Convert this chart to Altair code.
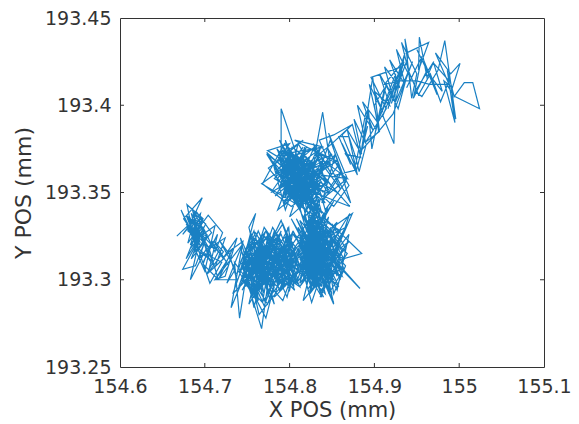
import altair as alt
import pandas as pd

x_ticks = [154.6, 154.7, 154.8, 154.9, 155.0, 155.1]
y_ticks = [193.25, 193.3, 193.35, 193.4, 193.45]

xA = [154.667,154.680,154.672,154.690,154.678,154.700,154.683,154.698,154.679,154.686,154.678,154.694,154.684,154.703,154.680,154.697,154.675,154.692,154.682,154.705,154.686,154.674,154.695,154.688,154.708,154.690,154.680,154.704,154.721,154.712,154.698,154.684,154.700,154.689,154.674,154.694,154.683,154.702,154.692,154.678,154.688,154.710,154.695,154.712,154.700,154.688,154.705,154.696,154.716,154.702,154.722,154.708,154.698,154.716,154.705,154.724,154.712,154.700,154.720,154.706]
yA = [193.325,193.331,193.340,193.322,193.337,193.328,193.318,193.335,193.343,193.326,193.332,193.320,193.338,193.325,193.329,193.347,193.335,193.323,193.330,193.318,193.334,193.326,193.338,193.316,193.327,193.339,193.321,193.337,193.327,193.316,193.330,193.312,193.322,193.308,193.306,193.324,193.300,193.318,193.329,193.312,193.320,193.310,193.325,193.331,193.305,193.318,193.312,193.326,193.316,193.303,193.312,193.322,193.309,193.300,193.318,193.324,193.307,193.315,193.310,193.298]

xA2 = [154.682,154.690,154.685,154.694,154.680,154.688,154.697,154.683,154.692,154.686,154.699,154.681,154.691,154.687,154.695,154.684,154.689,154.701,154.686,154.693,154.679,154.690,154.696,154.684,154.692,154.688,154.700,154.685,154.694,154.682,154.690,154.703,154.693,154.710,154.698,154.715,154.704,154.722,154.711,154.728,154.716,154.733,154.721,154.738,154.724,154.712,154.730,154.718,154.736,154.726,154.744]
yA2 = [193.332,193.326,193.336,193.322,193.328,193.338,193.330,193.320,193.334,193.324,193.328,193.335,193.318,193.330,193.336,193.326,193.320,193.332,193.339,193.325,193.330,193.322,193.334,193.328,193.318,193.332,193.322,193.330,193.326,193.336,193.316,193.326,193.312,193.322,193.310,193.326,193.304,193.316,193.322,193.308,193.300,193.318,193.312,193.324,193.302,193.300,193.314,193.322,193.306,193.298,193.320]

xB = [154.712,154.738,154.728,154.745,154.731,154.750,154.741,154.735,154.756,154.742,154.762,154.748,154.770,154.752,154.760,154.744,154.767,154.775,154.758,154.782,154.765,154.749,154.772,154.790,154.768,154.755,154.778,154.760,154.740,154.763,154.785,154.770,154.752,154.775,154.795,154.778,154.758,154.745,154.768,154.788,154.772,154.750,154.764,154.782,154.760,154.738,154.755,154.775,154.762,154.790,154.770,154.748,154.767,154.780,154.757,154.742,154.763,154.760,154.785,154.768,154.775,154.752,154.741,154.758,154.767,154.772,154.754,154.775,154.762,154.786,154.770,154.745,154.760,154.780,154.765,154.752,154.733,154.757,154.778,154.760,154.792,154.772,154.748,154.766,154.785,154.756,154.775,154.795,154.764,154.750,154.773,154.788,154.760,154.743,154.768,154.782,154.755,154.770,154.792,154.776,154.758,154.784,154.765,154.790,154.772,154.798,154.780,154.762,154.786,154.800]
yB = [193.300,193.300,193.316,193.322,193.284,193.306,193.278,193.310,193.296,193.324,193.302,193.316,193.292,193.330,193.338,193.308,193.272,193.300,193.312,193.295,193.322,193.300,193.278,193.312,193.326,193.290,193.318,193.305,193.296,193.328,193.304,193.288,193.320,193.310,193.296,193.324,193.284,193.314,193.302,193.326,193.298,193.308,193.320,193.286,193.312,193.304,193.326,193.300,193.294,193.316,193.330,193.296,193.310,193.322,193.300,193.318,193.288,193.306,193.324,193.314,193.292,193.322,193.304,193.290,193.318,193.303,193.312,193.326,193.298,193.306,193.285,193.313,193.327,193.310,193.296,193.318,193.292,193.304,193.320,193.293,193.308,193.328,193.298,193.316,193.300,193.322,193.306,193.319,193.294,193.310,193.324,193.298,193.314,193.300,193.287,193.326,193.308,193.318,193.300,193.290,193.322,193.310,193.303,193.328,193.296,193.316,193.330,193.305,193.296,193.320]

xB2 = [154.752,154.764,154.747,154.770,154.756,154.744,154.766,154.780,154.750,154.760,154.774,154.745,154.757,154.783,154.762,154.748,154.770,154.755,154.778,154.790,154.766,154.742,154.758,154.772,154.786,154.752,154.768,154.794,154.776,154.760,154.746,154.773,154.788,154.800,154.782,154.764,154.796,154.778,154.806,154.788,154.770,154.802,154.784,154.756,154.792,154.810,154.776,154.798,154.766,154.790,154.812,154.782,154.756,154.774,154.794,154.768,154.748,154.786,154.762,154.804,154.780,154.754,154.772,154.796,154.764,154.750,154.788,154.808,154.778,154.758,154.798,154.770,154.744,154.784,154.760,154.802,154.776,154.752,154.792,154.814,154.782,154.800,154.774,154.810,154.790,154.766,154.806,154.786,154.816,154.796]
yB2 = [193.312,193.304,193.318,193.298,193.322,193.306,193.316,193.300,193.310,193.294,193.320,193.298,193.324,193.312,193.302,193.315,193.326,193.292,193.308,193.318,193.296,193.310,193.328,193.302,193.314,193.286,193.320,193.304,193.326,193.290,193.306,193.316,193.294,193.310,193.328,193.300,193.322,193.306,193.316,193.298,193.318,193.302,193.324,193.308,193.288,193.312,193.296,193.326,193.310,193.334,193.304,193.318,193.300,193.286,193.314,193.326,193.312,193.296,193.306,193.320,193.302,193.316,193.328,193.300,193.280,193.310,193.322,193.298,193.312,193.324,193.306,193.318,193.294,193.326,193.308,193.296,193.320,193.302,193.332,193.306,193.290,193.322,193.310,193.300,193.326,193.314,193.294,193.318,193.302,193.328]

xB3 = [154.796,154.806,154.790,154.802,154.786,154.798,154.810,154.792,154.804,154.788,154.800,154.812,154.794,154.808,154.784,154.799,154.805,154.791,154.814,154.797,154.783,154.803,154.793,154.809,154.787,154.801,154.795,154.811,154.789,154.807,154.798,154.785,154.804,154.794,154.812,154.790,154.802,154.796,154.808,154.786]
yB3 = [193.322,193.306,193.314,193.298,193.326,193.304,193.318,193.296,193.328,193.310,193.294,193.320,193.312,193.302,193.316,193.330,193.296,193.308,193.324,193.290,193.306,193.322,193.314,193.298,193.304,193.326,193.318,193.306,193.294,193.312,193.330,193.298,193.316,193.302,193.296,193.320,193.308,193.326,193.318,193.300]

xC = [154.812,154.830,154.806,154.845,154.820,154.800,154.838,154.816,154.852,154.826,154.808,154.842,154.822,154.860,154.834,154.812,154.848,154.828,154.804,154.840,154.818,154.856,154.830,154.810,154.846,154.824,154.868,154.836,154.814,154.850,154.822,154.802,154.842,154.826,154.862,154.832,154.808,154.846,154.820,154.885,154.840,154.816,154.854,154.828,154.806,154.844,154.824,154.870,154.834,154.812,154.883,154.838,154.852,154.818,154.842,154.826,154.810,154.848,154.830,154.864,154.836,154.815,154.826,154.852,154.820,154.840,154.804,154.832,154.858,154.822,154.846,154.814,154.836,154.826,154.866,154.834,154.818,154.844,154.826,154.852,154.812,154.838,154.824,154.848,154.816,154.832,154.856,154.828,154.842,154.808,154.834,154.820,154.850,154.826,154.840,154.813,154.830,154.860,154.824,154.846,154.818,154.836,154.874,154.842,154.828,154.850,154.812,154.834,154.822,154.844,154.826,154.838,154.816,154.854,154.830,154.803,154.842,154.824,154.836,154.852,154.820,154.833,154.846,154.814,154.828,154.871,154.842,154.819,154.835,154.848,154.824,154.810,154.838,154.826,154.856,154.832,154.816,154.844,154.822,154.838,154.850,154.827,154.812,154.836,154.845,154.820,154.832,154.852,154.825,154.840,154.818,154.834]
yC = [193.300,193.325,193.310,193.296,193.332,193.318,193.303,193.328,193.287,193.316,193.335,193.305,193.295,193.322,193.336,193.298,193.318,193.306,193.328,193.290,193.314,193.333,193.300,193.322,193.308,193.336,193.315,193.293,193.326,193.304,193.318,193.335,193.297,193.312,193.302,193.332,193.298,193.322,193.306,193.315,193.336,193.288,193.312,193.326,193.302,193.330,193.292,193.322,193.308,193.334,193.295,193.318,193.286,193.324,193.310,193.296,193.330,193.300,193.320,193.312,193.336,193.306,193.287,193.325,193.298,193.316,193.326,193.308,193.296,193.334,193.312,193.322,193.296,193.320,193.330,193.304,193.336,193.308,193.326,193.300,193.312,193.290,193.318,193.328,193.300,193.332,193.315,193.296,193.322,193.306,193.318,193.334,193.292,193.312,193.328,193.302,193.322,193.306,193.294,193.336,193.312,193.325,193.338,193.302,193.318,193.328,193.296,193.310,193.332,193.316,193.300,193.326,193.336,193.306,193.320,193.312,193.292,193.328,193.306,193.322,193.298,193.332,193.312,193.320,193.304,193.338,193.296,193.326,193.312,193.302,193.334,193.314,193.296,193.326,193.308,193.340,193.318,193.300,193.332,193.310,193.326,193.336,193.304,193.322,193.342,193.316,193.330,193.345,193.322,193.338,193.350,193.334]

xC2 = [154.822,154.834,154.816,154.828,154.840,154.820,154.832,154.814,154.826,154.838,154.818,154.830,154.843,154.824,154.812,154.835,154.821,154.841,154.827,154.815,154.836,154.823,154.845,154.829,154.817,154.833,154.825,154.839,154.819,154.831,154.813,154.837,154.826,154.842,154.820,154.834,154.828,154.816,154.840,154.824,154.832,154.818,154.836,154.822,154.844,154.830,154.814,154.827,154.838,154.821,154.835,154.825,154.812,154.841,154.829,154.819,154.833,154.823,154.839,154.817,154.831,154.826,154.843,154.820,154.836,154.815,154.828,154.840,154.824,154.834,154.818,154.830,154.846,154.822,154.837,154.813,154.827,154.842,154.825,154.835,154.816,154.832,154.820,154.844,154.829,154.823,154.838,154.814,154.833,154.826,154.841,154.819,154.836,154.828,154.812,154.834,154.824,154.845,154.830,154.817]
yC2 = [193.306,193.322,193.312,193.330,193.304,193.326,193.310,193.318,193.302,193.324,193.332,193.314,193.306,193.328,193.308,193.320,193.300,193.316,193.334,193.312,193.326,193.306,193.322,193.310,193.328,193.300,193.318,193.332,193.308,193.324,193.314,193.304,193.330,193.312,193.320,193.302,193.326,193.306,193.322,193.316,193.334,193.300,193.310,193.328,193.318,193.304,193.324,193.312,193.330,193.308,193.320,193.296,193.316,193.326,193.306,193.322,193.312,193.332,193.302,193.318,193.328,193.308,193.314,193.298,193.324,193.310,193.334,193.304,193.320,193.314,193.326,193.300,193.316,193.306,193.330,193.322,193.310,193.302,193.326,193.318,193.306,193.332,193.312,193.322,193.296,193.324,193.310,193.316,193.304,193.334,193.320,193.308,193.328,193.300,193.324,193.312,193.336,193.306,193.322,193.318]

xC3 = [154.846,154.858,154.842,154.862,154.850,154.866,154.844,154.856,154.870,154.848,154.860,154.838,154.854,154.864,154.846,154.852,154.868,154.842,154.858,154.850,154.836,154.862,154.848,154.856,154.840,154.866,154.852,154.844,154.860]
yC3 = [193.296,193.310,193.322,193.302,193.332,193.318,193.306,193.294,193.326,193.312,193.300,193.330,193.320,193.306,193.292,193.316,193.332,193.300,193.324,193.310,193.290,193.316,193.330,193.302,193.322,193.308,193.292,193.318,193.328]

xN = [154.828,154.818,154.832,154.822,154.812,154.826,154.836,154.816,154.830,154.820,154.810,154.828,154.838,154.818,154.830,154.824,154.812,154.834,154.820,154.828,154.840,154.814,154.826,154.836,154.822,154.808,154.830,154.818,154.834,154.824,154.812,154.828,154.842,154.816,154.806,154.826,154.836,154.812,154.822,154.832,154.804,154.820,154.830,154.810,154.826,154.816,154.836,154.806,154.822,154.814]
yN = [193.338,193.348,193.330,193.352,193.340,193.326,193.346,193.335,193.354,193.328,193.344,193.356,193.338,193.350,193.342,193.325,193.352,193.334,193.358,193.346,193.330,193.342,193.360,193.336,193.350,193.356,193.340,193.362,193.346,193.332,193.358,193.350,193.344,193.364,193.348,193.336,193.356,193.342,193.366,193.352,193.358,193.344,193.368,193.350,193.340,193.362,193.354,193.346,193.370,193.352]

xD = [154.822,154.810,154.830,154.804,154.825,154.796,154.818,154.838,154.808,154.773,154.800,154.790,154.815,154.842,154.820,154.767,154.798,154.812,154.785,154.828,154.795,154.835,154.806,154.778,154.816,154.790,154.845,154.810,154.795,154.822,154.790,154.790,154.808,154.782,154.826,154.800,154.788,154.838,154.812,154.773,154.802,154.795,154.820,154.785,154.836,154.808,154.775,154.798,154.828,154.795,154.850,154.816,154.786,154.810,154.844,154.802,154.768,154.794,154.826,154.806,154.790,154.832,154.798,154.856,154.820,154.783,154.812,154.796,154.840,154.805,154.788,154.822,154.800,154.836,154.812,154.792,154.846,154.818,154.871,154.838,154.868,154.830,154.812,154.848,154.839,154.830,154.845,154.860,154.835,154.852,154.874,154.850]
yD = [193.342,193.352,193.345,193.358,193.340,193.368,193.350,193.360,193.345,193.372,193.362,193.345,193.370,193.356,193.340,193.355,193.366,193.348,193.375,193.352,193.345,193.370,193.358,193.350,193.376,193.360,193.350,193.378,193.348,193.362,193.366,193.398,193.372,193.358,193.345,193.375,193.352,193.368,193.342,193.373,193.360,193.380,193.350,193.368,193.376,193.345,193.364,193.372,193.348,193.360,193.372,193.352,193.340,193.370,193.356,193.342,193.355,193.378,193.358,193.345,193.374,193.362,193.350,193.368,193.376,193.348,193.360,193.372,193.350,193.366,193.380,193.346,193.362,193.375,193.340,193.356,193.368,193.352,193.342,193.360,193.358,193.372,193.352,193.366,193.396,193.372,193.362,193.352,193.380,193.383,193.389,193.378]

xD2 = [154.800,154.812,154.794,154.806,154.818,154.790,154.803,154.815,154.797,154.809,154.822,154.788,154.800,154.814,154.793,154.805,154.826,154.798,154.810,154.784,154.802,154.816,154.792,154.808,154.820,154.796,154.811,154.786,154.804,154.824,154.799,154.813,154.790,154.807,154.828,154.801,154.817,154.795,154.782,154.806,154.819,154.797,154.812,154.830,154.803,154.789,154.815,154.800,154.823,154.794,154.808,154.780,154.802,154.818,154.796,154.834,154.810,154.786,154.804,154.821,154.798,154.814,154.792,154.838,154.806,154.825,154.800,154.787,154.812,154.796,154.829,154.805,154.842,154.816,154.794,154.808,154.836,154.800,154.820,154.812]
yD2 = [193.358,193.368,193.362,193.350,193.372,193.356,193.366,193.352,193.374,193.360,193.348,193.364,193.370,193.354,193.342,193.368,193.358,193.376,193.346,193.362,193.372,193.352,193.366,193.356,193.370,193.346,193.362,193.374,193.350,193.362,193.368,193.344,193.358,193.372,193.352,193.362,193.370,193.340,193.364,193.352,193.374,193.356,193.342,193.366,193.376,193.354,193.362,193.348,193.370,193.358,193.344,193.368,193.356,193.376,193.350,193.364,193.342,193.358,193.372,193.352,193.366,193.338,193.374,193.358,193.346,193.368,193.354,193.370,193.340,193.362,193.376,193.350,193.366,193.344,193.360,193.372,193.352,193.336,193.364,193.348]

xD3 = [154.836,154.850,154.828,154.846,154.862,154.838,154.854,154.832,154.848,154.866,154.842,154.826,154.856,154.774,154.800,154.782,154.816,154.792,154.840,154.806,154.858,154.834,154.852,154.870,154.844,154.860,154.838,154.868,154.846,154.872,154.854]
yD3 = [193.372,193.360,193.378,193.350,193.362,193.344,193.372,193.358,193.380,193.356,193.340,193.368,193.350,193.374,193.378,193.366,193.380,193.372,193.376,193.380,193.366,193.350,193.342,193.354,193.376,193.362,193.346,193.358,193.384,193.344,193.360]

xE = [154.879,154.866,154.884,154.874,154.862,154.879,154.892,154.884,154.898,154.906,154.890,154.914,154.896,154.932,154.905,154.925,154.923,154.910,154.935,154.920,154.940,154.936,154.944,154.950,154.938,154.964,154.952,154.953,154.962,154.970,154.948,154.956,154.975,154.983,154.996,154.988,154.972,154.990,155.001,154.992,154.982,154.995,154.986,154.994,155.006,155.016,155.024,154.995,154.985,154.965,154.950,154.930,154.912,154.932,154.916,154.936,154.925,154.945,154.922,154.905,154.900,154.912,154.897,154.893,154.886,154.905,154.890,154.882,154.878,154.870]
yE = [193.363,193.372,193.370,193.389,193.383,193.363,193.388,193.372,193.416,193.385,193.379,193.398,193.416,193.422,193.392,193.418,193.378,193.394,193.425,193.401,193.428,193.438,193.404,193.418,193.430,193.436,193.420,193.439,193.416,193.425,193.408,193.405,193.420,193.437,193.392,193.412,193.430,193.418,193.424,193.410,193.414,193.390,193.420,193.405,193.413,193.413,193.398,193.405,193.412,193.412,193.414,193.414,193.412,193.424,193.398,193.430,193.402,193.425,193.395,193.385,193.400,193.410,193.375,193.397,193.375,193.385,193.377,193.362,193.370,193.382]

xE2 = [154.858,154.872,154.862,154.880,154.868,154.885,154.876,154.890,154.880,154.898,154.886,154.904,154.894,154.910,154.900,154.918,154.906,154.922,154.912,154.930,154.918,154.936,154.926,154.942,154.932,154.948,154.938,154.956,154.946,154.962,154.950,154.968,154.958,154.974,154.964,154.980,154.970,154.988,154.978,154.966,154.952,154.940,154.928,154.914,154.902,154.890,154.878]
yE2 = [193.382,193.366,193.378,193.360,193.386,193.372,193.392,193.378,193.400,193.386,193.402,193.390,193.412,193.396,193.408,193.400,193.418,193.404,193.422,193.410,193.426,193.412,193.432,193.416,193.436,193.420,193.410,193.428,193.404,193.420,193.432,193.414,193.426,193.406,193.418,193.408,193.424,193.414,193.402,193.418,193.406,193.420,193.398,193.412,193.386,193.396,193.366]

xs = xA + xA2 + xB + xB2 + xB3 + xC + xC2 + xC3 + xN + xD + xD2 + xD3 + xE + xE2
ys = yA + yA2 + yB + yB2 + yB3 + yC + yC2 + yC3 + yN + yD + yD2 + yD3 + yE + yE2
rows = [{"i": i, "x": a, "y": b} for i, (a, b) in enumerate(zip(xs, ys))]
df = pd.DataFrame(rows)

INK = "#333333"
W, H = 424, 349
xs_scale = alt.Scale(domain=[154.6, 155.1], nice=False, zero=False)
ys_scale = alt.Scale(domain=[193.25, 193.45], nice=False, zero=False)

line = alt.Chart(df).mark_line(color="#0072BD", strokeWidth=1.2, opacity=0.9).encode(
    x=alt.X("x:Q", scale=xs_scale, title="X POS (mm)",
            axis=alt.Axis(values=x_ticks, labelExpr="format(datum.value, '.1~f')", domain=False,
                          tickSize=0, labelPadding=10, grid=False, labelFontSize=19, titleFontSize=21,
                          labelColor=INK, titleColor=INK, titleFontWeight="normal", titlePadding=3,
                          labelFont="DejaVu Sans", titleFont="DejaVu Sans", labelOverlap=False, labelFlush=False)),
    y=alt.Y("y:Q", scale=ys_scale, title="Y POS (mm)",
            axis=alt.Axis(values=y_ticks, labelExpr="format(datum.value, '.2~f')", domain=False,
                          tickSize=0, labelPadding=9, grid=False, labelFontSize=19, titleFontSize=22,
                          labelColor=INK, titleColor=INK, titleFontWeight="normal", titlePadding=9,
                          labelFont="DejaVu Sans", titleFont="DejaVu Sans", labelOverlap=False)),
    order="i:Q",
)

xt = alt.Chart(pd.DataFrame({"v": x_ticks[1:-1]}))
yt = alt.Chart(pd.DataFrame({"v": y_ticks[1:-1]}))
rule = dict(color=INK, strokeWidth=1)
ticks = [
    xt.mark_rule(**rule).encode(x=alt.X("v:Q", scale=xs_scale), y=alt.value(H), y2=alt.value(H - 4)),
    xt.mark_rule(**rule).encode(x=alt.X("v:Q", scale=xs_scale), y=alt.value(0), y2=alt.value(4)),
    yt.mark_rule(**rule).encode(y=alt.Y("v:Q", scale=ys_scale), x=alt.value(0), x2=alt.value(4)),
    yt.mark_rule(**rule).encode(y=alt.Y("v:Q", scale=ys_scale), x=alt.value(W), x2=alt.value(W - 4)),
]

chart = alt.layer(line, *ticks).properties(
    width=W, height=H,
    autosize=alt.AutoSizeParams(type="none"),
    padding={"left": 112, "top": 10, "right": 27, "bottom": 57},
    background="white",
).configure_view(stroke=INK, strokeWidth=1)

chart.save("out.html", embed_options={"renderer": "svg", "actions": False})
